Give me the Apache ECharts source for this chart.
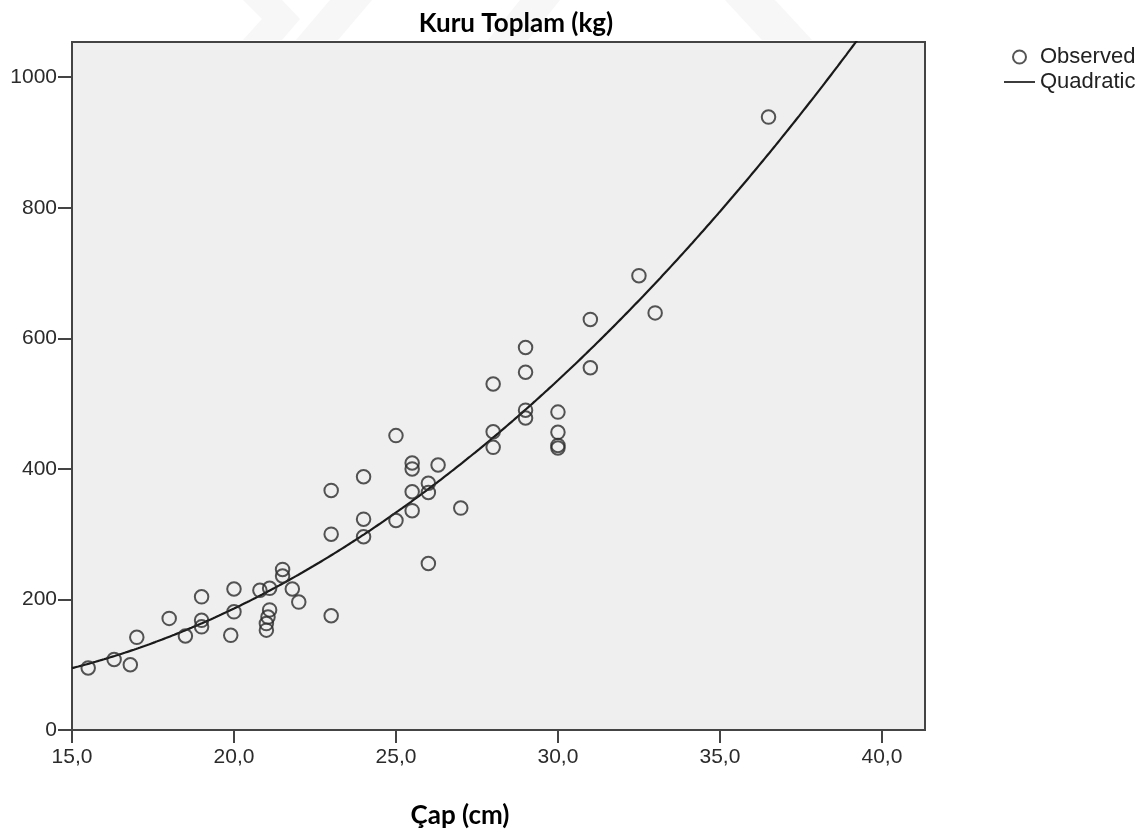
<!DOCTYPE html>
<html>
<head>
<meta charset="utf-8">
<script src="https://cdn.jsdelivr.net/npm/echarts@6/dist/echarts.min.js"></script>
<style>
  html, body { margin: 0; padding: 0; background: #ffffff; }
  #chart { width: 1147px; height: 834px; }
</style>
</head>
<body>
<div id="chart"></div>
<script>
// Çap (cm) of each observation
const diameters = [
  15.5, 16.3, 16.8, 17.0, 18.0, 18.5, 19.0, 19.0, 19.0, 19.9,
  20.0, 20.0, 20.8, 21.1, 21.0, 21.0, 21.05, 21.1, 21.5, 21.5,
  21.8, 22.0, 23.0, 23.0, 23.0, 24.0, 24.0, 24.0, 25.0, 25.0,
  25.5, 25.5, 25.5, 25.5, 26.0, 26.0, 26.0, 26.3, 27.0, 28.0,
  28.0, 28.0, 29.0, 29.0, 29.0, 29.0, 30.0, 30.0, 30.0, 30.0,
  31.0, 31.0, 32.5, 33.0, 36.5
];
// Kuru Toplam (kg) of each observation
const dryTotals = [
  95, 108, 100, 142, 171, 144, 204, 168, 158, 145,
  216, 181, 214, 217, 153, 163, 173, 184, 246, 236,
  216, 196, 175, 300, 367, 388, 323, 296, 451, 321,
  409, 400, 365, 336, 378, 364, 255, 406, 340, 530,
  457, 433, 586, 548, 490, 478, 487, 456, 436, 432,
  629, 555, 696, 639, 939
];
const xTicks = [15, 20, 25, 30, 35, 40];
const yTicks = [0, 200, 400, 600, 800, 1000];

// Least-squares quadratic fit y = b0 + b1 x + b2 x^2
function fitQuadratic(xs, ys) {
  const S = [0, 0, 0, 0, 0], T = [0, 0, 0];
  for (let i = 0; i < xs.length; i++) {
    const x = xs[i], y = ys[i];
    let p = 1;
    for (let k = 0; k < 5; k++) { S[k] += p; if (k < 3) T[k] += p * y; p *= x; }
  }
  const A = [[S[0], S[1], S[2], T[0]], [S[1], S[2], S[3], T[1]], [S[2], S[3], S[4], T[2]]];
  for (let c = 0; c < 3; c++) {
    for (let r = c + 1; r < 3; r++) {
      const f = A[r][c] / A[c][c];
      for (let k = c; k < 4; k++) A[r][k] -= f * A[c][k];
    }
  }
  const b = [0, 0, 0];
  for (let r = 2; r >= 0; r--) {
    let s = A[r][3];
    for (let k = r + 1; k < 3; k++) s -= A[r][k] * b[k];
    b[r] = s / A[r][r];
  }
  return b;
}

const X_MIN = 15, X_MAX = 41.33, Y_MIN = 0, Y_MAX = 1054;
const coef = fitQuadratic(diameters, dryTotals);
const curve = [];
for (let i = 0; i <= 400; i++) {
  const x = X_MIN + (X_MAX - X_MIN) * i / 400;
  curve.push([x, coef[0] + coef[1] * x + coef[2] * x * x]);
}
const observed = diameters.map((d, i) => [d, dryTotals[i]]);

const chart = echarts.init(document.getElementById('chart'), null, { renderer: 'canvas' });
const axisFont = { fontFamily: 'Liberation Sans, Arial, sans-serif', fontSize: 21, color: '#2b2b2b' };
const titleFont = { fontFamily: 'Lato, sans-serif', fontWeight: 'bold', fontSize: 26, color: '#000' };
const faint = { fill: '#f7f7f7' };

chart.setOption({
  backgroundColor: '#ffffff',
  animation: false,
  // faint page decoration in the top margin
  graphic: [
    { type: 'polygon', z: -10, shape: { points: [[243, 0], [282, 0], [300, 19], [282, 40], [243, 40], [262, 19]] }, style: faint },
    { type: 'polygon', z: -10, shape: { points: [[330, 0], [372, 0], [338, 40], [296, 40]] }, style: faint },
    { type: 'polygon', z: -10, shape: { points: [[520, 0], [560, 0], [528, 40], [488, 40]] }, style: faint },
    { type: 'polygon', z: -10, shape: { points: [[725, 0], [775, 0], [812, 40], [762, 40]] }, style: faint }
  ],
  title: [
    { text: 'Kuru Toplam (kg)', left: 511, top: 6, textAlign: 'center', textStyle: titleFont },
    { text: 'Çap (cm)', left: 455, top: 798, textAlign: 'center', textStyle: titleFont }
  ],
  legend: {
    orient: 'vertical',
    left: 1004,
    top: 46,
    padding: 0,
    itemWidth: 31,
    itemHeight: 13,
    itemGap: 3,
    textStyle: Object.assign({}, axisFont, { color: '#222', fontSize: 22 }),
    data: [
      { name: 'Observed' },
      { name: 'Quadratic', icon: 'path://M0 0H40V2.2H0Z', itemStyle: { color: '#1a1a1a' } }
    ]
  },
  grid: {
    left: 72, top: 42, width: 853, height: 688,
    show: true, backgroundColor: '#efefef', borderColor: '#444', borderWidth: 2
  },
  xAxis: {
    type: 'value', min: X_MIN, max: X_MAX,
    splitLine: { show: false },
    axisLine: { show: true, lineStyle: { color: '#444', width: 2 } },
    axisTick: { show: true, length: 13, customValues: xTicks, lineStyle: { color: '#444', width: 2 } },
    axisLabel: Object.assign({ customValues: xTicks, margin: 17,
      formatter: v => v.toFixed(1).replace('.', ',') }, axisFont)
  },
  yAxis: {
    type: 'value', min: Y_MIN, max: Y_MAX,
    splitLine: { show: false },
    axisLine: { show: true, lineStyle: { color: '#444', width: 2 } },
    axisTick: { show: true, length: 14, customValues: yTicks, lineStyle: { color: '#444', width: 2 } },
    axisLabel: Object.assign({ customValues: yTicks, margin: 15,
      formatter: v => String(v) }, axisFont)
  },
  series: [
    {
      name: 'Observed', type: 'scatter', data: observed,
      symbol: 'circle', symbolSize: 13.5,
      itemStyle: { color: 'rgba(0,0,0,0)', borderColor: '#2a2a2a', borderWidth: 2 },
      z: 3
    },
    {
      name: 'Quadratic', type: 'line', data: curve,
      showSymbol: false, symbol: 'none', smooth: false, clip: true,
      itemStyle: { color: '#1a1a1a' },
      lineStyle: { color: '#1a1a1a', width: 2.2 },
      z: 2
    }
  ]
});
</script>
</body>
</html>
